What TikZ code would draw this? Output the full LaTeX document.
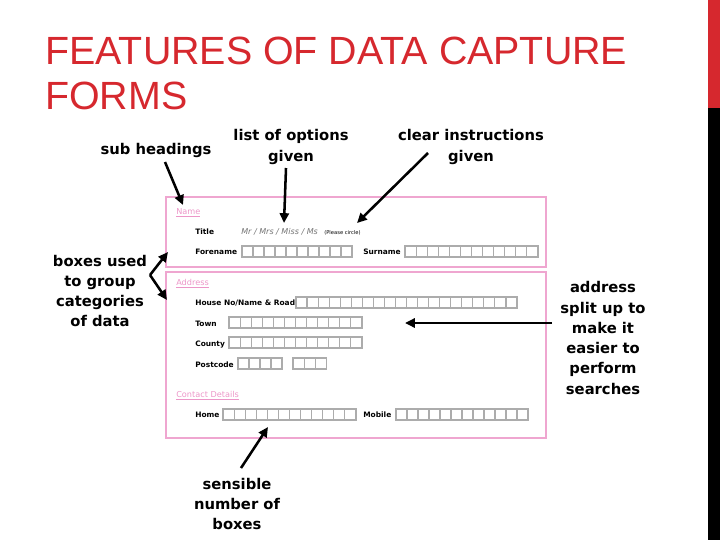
\documentclass[tikz,border=0pt]{standalone}
\usepackage{fontspec}
\setmainfont{DejaVu Sans}
\newfontfamily\titlefont{Liberation Sans}
\usetikzlibrary{arrows.meta,positioning}
\definecolor{formpink}{RGB}{236,150,200}
\definecolor{titlered}{RGB}{214,40,46}
% a row of entry cells: left x, top y, count, cell width
\newcommand\cellrow[4]{%
  \foreach \k in {1,...,#3} {\draw[cell] ({#1+(\k-1)*#4},#2) rectangle ++(#4,11);}}

\begin{document}
\begin{tikzpicture}[
    x=0.025cm,y=-0.025cm,
    note/.style={font=\fontsize{10.5}{14.4}\selectfont\bfseries, align=center, inner sep=0pt},
    pointer/.style={line width=1.8pt, line join=round, -{Triangle[length=7pt,width=6.5pt]}},
    section/.style={draw=formpink!85, line width=2pt},
    subhead/.style={font=\fontsize{5.8}{6}\selectfont, text=formpink, anchor=base west, inner sep=0pt},
    field/.style={font=\fontsize{5.3}{6}\selectfont\bfseries, anchor=base west, inner sep=0pt},
    cell/.style={draw=gray!65, line width=0.8pt}
]
    \useasboundingbox (0,0) rectangle (720,540);

    % side bar and title
    \fill[titlered] (708,0) rectangle (720,108);
    \fill[black] (708,108) rectangle (720,540);
    \node[font=\titlefont\fontsize{28}{32}\selectfont, text=titlered, anchor=north west,
          align=left, inner sep=0pt] (title) at (45,37) {FEATURES OF DATA CAPTURE\\FORMS};

    % the form
    \draw[section] (166,197) rectangle (546,267);
    \draw[section] (166,272) rectangle (546,438);

    \node[subhead] (nameHead) at (176,214) {\underline{Name}};
    \node[field] (titleLbl) at (195,234) {Title};
    \node[font=\fontsize{5.7}{6}\selectfont\itshape, text=gray!90!black, anchor=base west, inner sep=0pt]
        (options) at (241,234) {Mr / Mrs / Miss / Ms};
    \node[font=\fontsize{3.7}{4}\selectfont, anchor=base west, inner sep=0pt]
        (please) at (324,234) {(Please circle)};
    \node[field] (foreLbl) at (195,254) {Forename};
    \cellrow{242}{246}{10}{11}
    \node[field] (surLbl) at (363,254) {Surname};
    \cellrow{405}{246}{12}{11.08}

    \node[subhead] (addrHead) at (176,285) {\underline{Address}};
    \node[field] (houseLbl) at (195,305) {House No/Name \& Road};
    \cellrow{296}{297}{20}{11.05}
    \node[field] (townLbl) at (195,326) {Town};
    \cellrow{229}{317}{12}{11.08}
    \node[field] (countyLbl) at (195,346) {County};
    \cellrow{229}{337}{12}{11.08}
    \node[field] (postLbl) at (195,367) {Postcode};
    \cellrow{238}{358}{4}{11}
    \cellrow{293}{358}{3}{11.3}

    \node[subhead] (contactHead) at (176,397) {\underline{Contact Details}};
    \node[field] (homeLbl) at (195,417) {Home};
    \cellrow{223}{409}{12}{11.08}
    \node[field] (mobLbl) at (363,417) {Mobile};
    \cellrow{396}{409}{12}{11}

    % annotations
    \node[note] (subheads) at (156,150) {sub headings};
    \node[note] (optionsNote) at (291,147) {list of options\\given};
    \node[note] (instrNote) at (471,147) {clear instructions\\given};
    \node[note] (groupNote) at (100,291) {boxes used\\to group\\categories\\of data};
    \node[note] (splitNote) at (603,338) {address\\split up to\\make it\\easier to\\perform\\searches};
    \node[note] (sensNote) at (237,504) {sensible\\number of\\boxes};

    \coordinate (subFrom) at (165,162);
    \coordinate (subTip) at (183,205);
    \coordinate (optFrom) at (286,168);
    \coordinate (optTip) at (284,223);
    \coordinate (instrFrom) at (428,153);
    \coordinate (instrTip) at (357,223);
    \coordinate (groupFrom) at (150,275);
    \coordinate (groupTipA) at (168,252);
    \coordinate (groupTipB) at (167,300);
    \coordinate (splitFrom) at (552,323);
    \coordinate (splitTip) at (405,323);
    \coordinate (sensFrom) at (241,468);
    \coordinate (sensTip) at (268,427);

    \draw[pointer] (subFrom) -- (subTip);
    \draw[pointer] (optFrom) -- (optTip);
    \draw[pointer] (instrFrom) -- (instrTip);
    \draw[pointer] (groupFrom) -- (groupTipA);
    \draw[pointer] (groupFrom) -- (groupTipB);
    \draw[pointer] (splitFrom) -- (splitTip);
    \draw[pointer] (sensFrom) -- (sensTip);
\end{tikzpicture}
\end{document}
